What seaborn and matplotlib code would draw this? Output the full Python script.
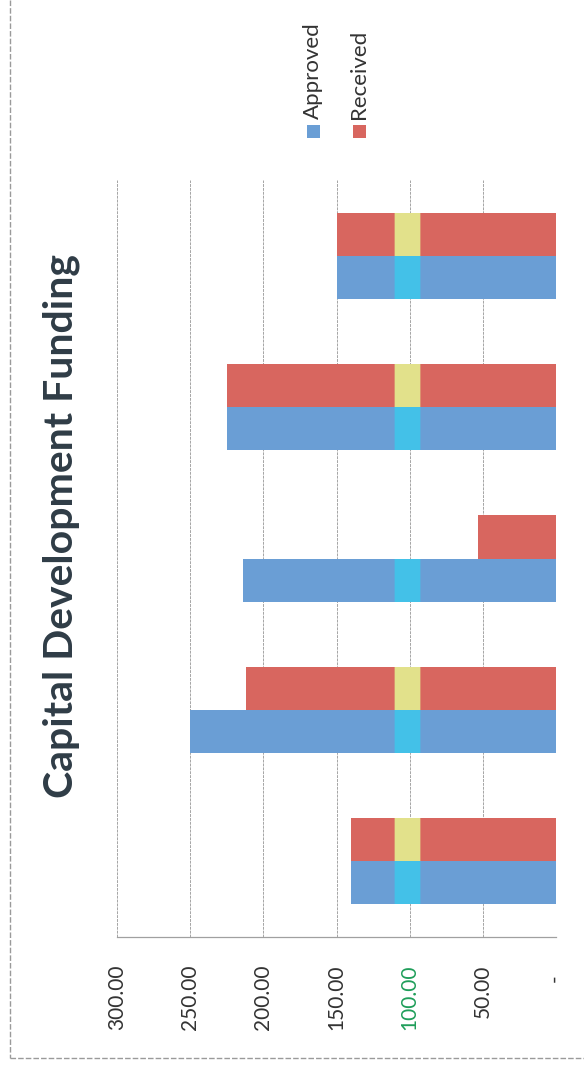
import matplotlib
matplotlib.use("Agg")
import matplotlib.pyplot as plt
from matplotlib.patches import Rectangle
from matplotlib.lines import Line2D
import pandas as pd
import seaborn as sns

# Funding per project (thousands)
projects = ["P1", "P2", "P3", "P4", "P5"]
approved = [140, 250, 214, 225, 150]
received = [140, 212, 53, 225, 150]
series_names = ["Approved", "Received"]
tick_values = [0, 50, 100, 150, 200, 250, 300]
tick_labels = ["-  ", "50.00", "100.00", "150.00", "200.00", "250.00", "300.00"]
title = "Capital Development Funding"
highlight_range = (93, 110)  # marker stripe drawn across the 100 line

blue = "#6a9ed5"
red = "#d8665f"
stripe_on = {blue: "#41c4ea", red: "#e3e98e"}

df = pd.DataFrame({
    "Project": projects * 2,
    "Amount": approved + received,
    "Series": [series_names[0]] * len(projects) + [series_names[1]] * len(projects),
})

sns.set_theme(style="white")
plt.rcParams["font.family"] = ["Lato", "DejaVu Sans"]

W, H = 584, 1066
fig = plt.figure(figsize=(W / 100, H / 100), dpi=100)
fig.patch.set_facecolor("white")

# plot area in pixels: x 117..556, y 180..937
ax = fig.add_axes([117 / W, (H - 937) / H, (556 - 117) / W, (937 - 180) / H])
sns.barplot(data=df, y="Project", x="Amount", hue="Series", orient="h",
            palette=[blue, red], width=0.57, ax=ax, legend=False,
            saturation=1, linewidth=0)

ax.set_xlim(300, 0)
ax.set_ylim(-0.5, len(projects) - 0.5)
ax.set_xticks(tick_values)
ax.set_xticklabels(tick_labels, rotation=90, fontsize=15, color="#333333",
                   va="top", ha="center")
for lbl in ax.get_xticklabels():
    if lbl.get_text() == "100.00":
        lbl.set_color("#1f9e5a")
ax.tick_params(axis="x", length=0, pad=20)
ax.set_yticks([])
ax.set_xlabel("")
ax.set_ylabel("")
for side in ["top", "left", "right"]:
    ax.spines[side].set_visible(False)
ax.spines["bottom"].set_color("#a0a0a0")
ax.spines["bottom"].set_linewidth(0.9)
ax.grid(axis="x", color="#a5a5a5", linewidth=0.7, linestyle=(0, (3, 1)))
ax.set_axisbelow(True)

# highlighter stripe over the bars that reach past it
lo, hi = highlight_range
for bar in list(ax.patches):
    val = bar.get_width()
    if abs(val) <= hi:
        continue
    fc = matplotlib.colors.to_hex(bar.get_facecolor())
    col = stripe_on.get(fc, "#e3e98e")
    y0, h = bar.get_y(), bar.get_height()
    ax.add_patch(Rectangle((lo - 1, y0), (hi - lo) + 2, h, facecolor=col,
                           alpha=0.35, linewidth=0, zorder=3))
    ax.add_patch(Rectangle((lo, y0), hi - lo, h, facecolor=col,
                           alpha=0.92, linewidth=0, zorder=3))

# title, reading bottom to top
fig.text(61 / W, 1 - 526 / H, title, rotation=90, ha="center", va="center",
         fontsize=29.5, fontweight="bold", color="#2f3c46")

# legend, rotated with the chart
leg_x = [313, 359]
for name, color, x in zip(series_names, [blue, red], leg_x):
    s = 13
    fig.patches.append(Rectangle(((x - s / 2) / W, 1 - (132 + s / 2) / H), s / W, s / H,
                                 transform=fig.transFigure, facecolor=color,
                                 edgecolor="none"))
    fig.text(x / W, 1 - 119 / H, name, rotation=90, ha="center", va="bottom",
             fontsize=16, color="#333333")

# outer chart frame
frame_kw = dict(transform=fig.transFigure, color="#9a9a9a", linewidth=1.0,
                linestyle=(0, (4, 1.5)))
fig.lines.append(Line2D([10 / W, 10 / W], [1.0, 1 - 1058 / H], **frame_kw))
fig.lines.append(Line2D([10 / W, 1.0], [1 - 1058 / H, 1 - 1058 / H], **frame_kw))

fig.savefig("out.png", dpi=100, facecolor="white")
